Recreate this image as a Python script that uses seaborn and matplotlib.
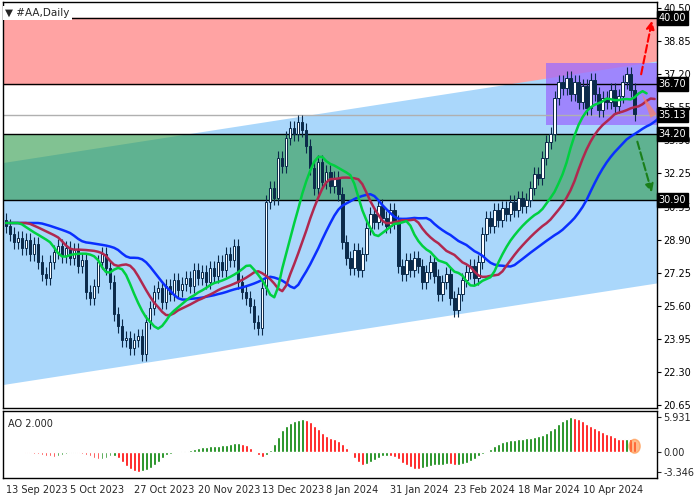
import numpy as np
import pandas as pd
import matplotlib
matplotlib.use('Agg')
import matplotlib.pyplot as plt
from matplotlib.patches import Polygon, Rectangle, Ellipse
import seaborn as sns

# daily closes, 13 Sep 2023 .. late Apr 2024
closes = [
    29.6, 29.2, 28.8, 29.0, 28.5, 28.9, 28.2, 28.7, 27.8, 27.2,
    27.0, 27.8, 28.3, 28.6, 28.1, 28.5, 28.0, 28.4, 27.6, 27.9,
    26.3, 26.0, 26.6, 27.8, 28.2, 27.5, 26.8, 25.2, 24.6, 23.9,
    24.0, 23.5, 23.9, 24.1, 23.2, 24.8, 25.5, 26.3, 26.5, 25.8,
    26.6, 26.2, 26.9, 26.4, 26.7, 27.0, 26.6, 27.4, 27.0, 27.3,
    26.8, 27.5, 27.1, 27.8, 27.4, 28.2, 27.9, 28.6, 26.8, 26.3,
    26.0, 25.6, 24.8, 24.5, 26.5, 30.8, 31.5, 31.0, 33.0, 32.6,
    34.0, 34.5, 34.2, 34.8, 34.4, 33.6, 32.5, 31.5, 32.8, 31.8,
    32.3, 31.6, 32.0, 31.2, 28.8, 28.0, 27.5, 28.4, 27.4, 28.2,
    29.5, 30.2, 29.8, 30.6, 30.0, 29.6, 30.4, 29.8, 27.6, 27.2,
    27.9, 27.4, 28.0, 27.6, 26.8, 27.3, 27.8, 27.1, 26.2, 26.8,
    27.2, 26.0, 25.4, 26.2, 26.9, 27.3, 27.6, 27.0, 27.8, 29.2,
    30.0, 29.6, 30.4, 29.9, 30.5, 30.2, 30.8, 30.4, 31.0, 30.6,
    30.9, 31.5, 32.2, 32.0, 33.0, 33.8, 34.2, 36.0, 36.8, 36.5,
    37.0, 36.2, 36.8, 35.8, 36.6, 35.5, 36.9, 36.2, 35.4, 36.0,
    35.8, 36.4, 35.6, 36.1, 36.8, 37.2, 36.4, 35.2,
]
first_open = 29.9
date_labels = ['13 Sep 2023', '5 Oct 2023', '27 Oct 2023', '20 Nov 2023', '13 Dec 2023',
               '8 Jan 2024', '31 Jan 2024', '23 Feb 2024', '18 Mar 2024', '10 Apr 2024']
date_bars = [0, 16, 32, 48, 64, 80, 96, 112, 128, 144]
levels = [40.00, 36.70, 34.20, 30.90]
last_price = 35.13
price_ticks = [40.50, 38.85, 37.20, 35.55, 33.90, 32.25, 30.55, 28.90, 27.25, 25.60, 23.95, 22.30, 20.65]
channel_top = (32.77, 0.0311)   # value at bar 0, slope per bar
channel_bottom = (21.67, 0.0311)
box_bars = (135, 163)
box_prices = (34.65, 37.75)

sns.set_style('white')
plt.rcParams['font.family'] = ['DejaVu Sans']

n = len(closes)
df = pd.DataFrame({'bar': np.arange(n), 'close': closes})
df['open'] = [first_open] + closes[:-1]
df['high'] = df[['open', 'close']].max(axis=1) + 0.35
df['low'] = df[['open', 'close']].min(axis=1) - 0.35
median = (df['high'] + df['low']) / 2

fig = plt.figure(figsize=(7, 5), dpi=100)
ax = fig.add_axes([0.004, 0.184, 0.934, 0.812])
ax2 = fig.add_axes([0.004, 0.044, 0.934, 0.134])
xmax = 162.5
for a in (ax, ax2):
    a.set_xlim(-0.8, xmax)
    for s in a.spines.values():
        s.set_color('black')
        s.set_linewidth(1)
ax.set_ylim(20.5, 40.8)

# zones
ax.axhspan(levels[1], levels[0], color='#ffa3a3', zorder=0)
x0, x1 = -0.8, 200
ax.add_patch(Polygon([[x0, channel_bottom[0] + channel_bottom[1] * x0],
                      [x1, channel_bottom[0] + channel_bottom[1] * x1],
                      [x1, channel_top[0] + channel_top[1] * x1],
                      [x0, channel_top[0] + channel_top[1] * x0]],
                     closed=True, color='#aad7fb', zorder=0.5, lw=0))
ax.axhspan(levels[3], levels[2], color='#2e9a4a', alpha=0.6, zorder=1, lw=0)
ax.add_patch(Rectangle((box_bars[0], box_prices[0]), box_bars[1] - box_bars[0],
                       box_prices[1] - box_prices[0], color='#9b6bff', alpha=0.75, zorder=1.2, lw=0))
for lv in levels:
    ax.axhline(lv, color='black', lw=1, zorder=1.5)
ax.axhline(last_price, color='#b0b0b0', lw=1, zorder=1.5)

# candles
navy = '#0b2a4a'
for r in df.itertuples():
    ax.vlines(r.bar, r.low, r.high, color=navy, lw=0.8, zorder=3)
    bottom = min(r.open, r.close)
    h = max(abs(r.close - r.open), 0.05)
    face = 'white' if r.close >= r.open else navy
    ax.add_patch(Rectangle((r.bar - 0.3, bottom), 0.6, h, facecolor=face,
                           edgecolor=navy, lw=0.7, zorder=3.5))

# alligator-style smoothed averages
def smma(period, shift):
    v = median.ewm(alpha=1 / period, adjust=False).mean()
    v = pd.Series(np.r_[[np.nan] * shift, v.values])
    return v.bfill()
lines = pd.DataFrame({'bar': np.arange(n + 8)})
for name, period, shift, col in [('blue', 13, 8, '#0a2fff'), ('red', 8, 5, '#b0284f'), ('green', 5, 3, '#00d040')]:
    v = smma(period, shift)
    lines[name] = v.reindex(range(n + 8)).values
    sns.lineplot(data=lines, x='bar', y=name, color=col, lw=1.8, ax=ax, zorder=4)
ax.set_xlabel('')
ax.set_ylabel('')

# arrows and fan
ax.annotate('', xy=(161.5, 40.0), xytext=(158.5, 37.05),
            arrowprops=dict(arrowstyle='-|>', color='red', lw=1.5, ls='--', mutation_scale=12), zorder=6)
ax.annotate('', xy=(161.5, 31.15), xytext=(157.5, 33.95),
            arrowprops=dict(arrowstyle='-|>', color='#1a7f1a', lw=1.5, ls='--', mutation_scale=12), zorder=6)
ax.add_patch(Polygon([[158.8, 36.2], [162.5, 35.2], [161.0, 35.0]], color='#ff8060', alpha=0.7, zorder=5, lw=0))

# right axis labels
ax.yaxis.tick_right()
ax.set_yticks(price_ticks)
ax.set_yticklabels([f'{t:.2f}' for t in price_ticks])
ax.tick_params(axis='y', labelsize=7, length=3, pad=2, colors='black')
ax.set_xticks([])
for lv in levels + [last_price]:
    ax.text(1.003, lv, f'{lv:.2f}', transform=ax.get_yaxis_transform(), ha='left', va='center',
            fontsize=7, color='white', bbox=dict(boxstyle='square,pad=0.2', fc='black', ec='black'),
            clip_on=False, zorder=10)
ax.text(0.004, 0.985, '\u25bc #AA,Daily', transform=ax.transAxes, fontsize=7.5, va='top', ha='left',
        bbox=dict(fc='white', ec='none', pad=1.5), zorder=10)

# Awesome Oscillator
ao = (median.rolling(5, min_periods=1).mean() - median.rolling(34, min_periods=1).mean()).values
cols = ['#008000' if i > 0 and ao[i] > ao[i - 1] else '#ff0000' for i in range(n)]
ao_df = pd.DataFrame({'bar': np.arange(n), 'ao': ao})
ax2.bar(ao_df['bar'], ao_df['ao'], width=0.7, color=cols)
ax2.add_patch(Ellipse((n - 1, ao[-1] / 2), 2.8, abs(ao[-1]) * 1.2, color='#ff9040', alpha=0.6, zorder=5))
lo, hi = ao.min(), ao.max()
pad = (hi - lo) * 0.12
ax2.set_ylim(lo - pad, hi + pad)
ax2.yaxis.tick_right()
ax2.set_yticks([hi, 0, lo])
ax2.set_yticklabels([f'{hi:.3f}', '0.00', f'{lo:.3f}'])
ax2.tick_params(axis='y', labelsize=7, length=3, pad=2)
ax2.set_xticks(date_bars)
ax2.set_xticklabels(date_labels, ha='left', fontsize=7)
ax2.tick_params(axis='x', length=3, pad=2)
ax2.text(0.008, 0.88, 'AO 2.000', transform=ax2.transAxes, fontsize=7, va='top')

fig.savefig('out.png', dpi=100)
